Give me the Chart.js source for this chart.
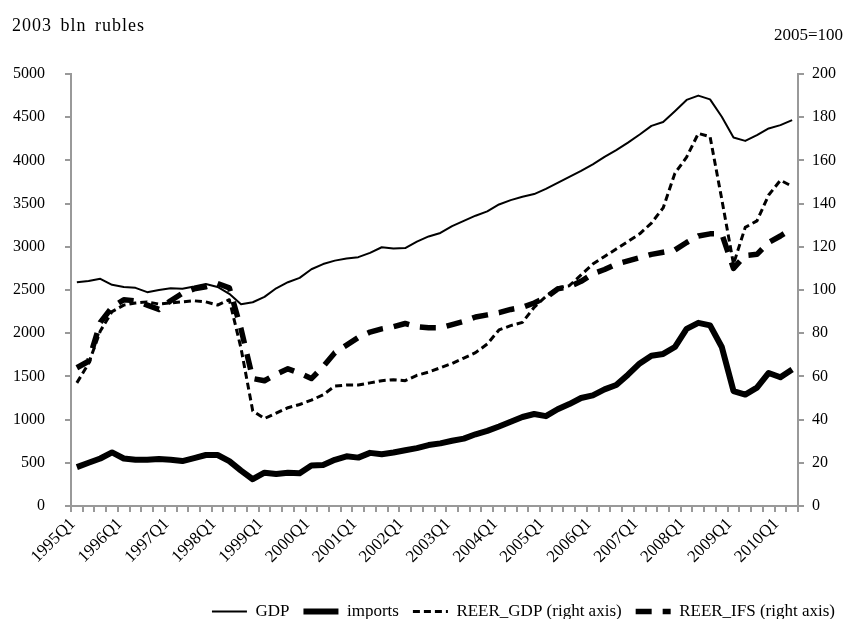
<html>
<head>
  <title>GDP, imports and REER</title>
  <script src="https://cdn.jsdelivr.net/npm/chart.js"></script>
  <style>
    body { margin: 0; background: #fff; }
    .wrap { position: relative; width: 849px; height: 619px; }
    .unit { position: absolute; font-family: 'Liberation Serif', serif; color: #000; }
  </style>
</head>
<body>
  <div class="wrap">
    <canvas id="myChart"></canvas>
    <div class="unit" style="left:12px; top:15px; font-size:18px; letter-spacing:1px; word-spacing:3px;">2003 bln rubles</div>
    <div class="unit" style="right:6px; top:25px; font-size:17px;">2005=100</div>
  </div>
  <script>
    // quarters
    const quarters = ['1995Q1','1995Q2','1995Q3','1995Q4','1996Q1','1996Q2','1996Q3','1996Q4',
      '1997Q1','1997Q2','1997Q3','1997Q4','1998Q1','1998Q2','1998Q3','1998Q4',
      '1999Q1','1999Q2','1999Q3','1999Q4','2000Q1','2000Q2','2000Q3','2000Q4',
      '2001Q1','2001Q2','2001Q3','2001Q4','2002Q1','2002Q2','2002Q3','2002Q4',
      '2003Q1','2003Q2','2003Q3','2003Q4','2004Q1','2004Q2','2004Q3','2004Q4',
      '2005Q1','2005Q2','2005Q3','2005Q4','2006Q1','2006Q2','2006Q3','2006Q4',
      '2007Q1','2007Q2','2007Q3','2007Q4','2008Q1','2008Q2','2008Q3','2008Q4',
      '2009Q1','2009Q2','2009Q3','2009Q4','2010Q1','2010Q2'];

    // left axis, 2003 bln rubles
    const gdp = [2590,2605,2630,2560, 2535,2525,2475,2500, 2520,2515,2540,2570, 2535,2456,2335,2358,
      2420,2520,2590,2640, 2740,2800,2840,2865, 2880,2930,2995,2980, 2985,3060,3120,3160,
      3240,3300,3360,3410, 3490,3540,3580,3610, 3670,3740,3810,3880, 3955,4040,4120,4205,
      4300,4400,4445,4570, 4700,4750,4706,4505, 4266,4226,4292,4370, 4408,4466];
    const imports = [450,500,550,620, 550,535,535,545, 535,520,555,590, 590,520,410,310,
      385,370,385,380, 470,475,535,575, 560,615,600,620, 645,670,705,725,
      755,780,830,870, 920,975,1030,1065, 1040,1120,1180,1250, 1280,1350,1400,1520,
      1650,1740,1760,1840, 2050,2120,2090,1840, 1330,1290,1370,1540, 1490,1580];

    // right axis, 2005=100
    const reerGdp = [57,66,81,90, 93,94,94.5,93.5, 94,94.5,95,94.5, 93,95.5,73,44,
      40.5,43,45.5,47, 49,51.5,55.5,56, 56,57,58,58.5, 58,60.5,62,64,
      66,68.5,71,75, 81.5,83.5,85,92, 97,101,102,107, 112,115.5,119,122.5,
      126,131,138,154, 161.5,172.5,171,142, 112,129,132,144, 150.8,148];
    const reerIfs = [64,67,85,92, 95.5,95,93,91, 95,98.5,100.5,101.5, 103,101,82,59,
      58,61,63.5,61.5, 59,64.5,71,74.5, 78,80.5,82,83, 84.5,83,82.5,82.5,
      84,85.5,87.5,88.5, 89.5,91,92,94, 96.5,100.5,101.5,104, 107.5,109.5,112,113.5,
      115,116.5,117.5,118.5, 122,125,126,126, 110,116,116.5,122, 125,128.5];

    const serif = 'Liberation Serif';
    const axisGrey = '#999999';

    // legend shows the real line style of each series
    function legendItems(chart) {
      return chart.data.datasets.map((ds, i) => ({
        text: ds.label,
        strokeStyle: ds.borderColor,
        fillStyle: ds.borderColor,
        lineWidth: ds.borderWidth,
        lineDash: ds.borderDash || [],
        lineCap: 'butt',
        pointStyle: 'line',
        fontColor: '#000',
        hidden: !chart.isDatasetVisible(i),
        datasetIndex: i
      }));
    }

    // push the legend row a bit lower
    const legendShift = {
      id: 'legendShift',
      afterLayout(chart) {
        chart.legend.top += 11;
        chart.legend.bottom += 11;
      }
    };

    const ctx = document.getElementById('myChart').getContext('2d');
    const myChart = new Chart(ctx, {
      type: 'line',
      data: {
        labels: quarters,
        datasets: [
          { label: 'GDP', data: gdp, yAxisID: 'y', borderColor: '#000', borderWidth: 2 },
          { label: 'imports', data: imports, yAxisID: 'y', borderColor: '#000', borderWidth: 6 },
          { label: 'REER_GDP (right axis)', data: reerGdp, yAxisID: 'y2', borderColor: '#000', borderWidth: 3, borderDash: [7, 4] },
          { label: 'REER_IFS (right axis)', data: reerIfs, yAxisID: 'y2', borderColor: '#000', borderWidth: 5.5, borderDash: [16, 11] }
        ]
      },
      options: {
        responsive: true,
        maintainAspectRatio: false,
        animation: false,
        layout: { padding: { top: 74, right: 0, left: 0, bottom: 0 } },
        elements: {
          point: { radius: 0 },
          line: { tension: 0, borderJoinStyle: 'round', fill: false }
        },
        plugins: {
          legend: {
            position: 'bottom',
            align: 'end',
            labels: {
              usePointStyle: true,
              pointStyleWidth: 35,
              padding: 14,
              color: '#000',
              font: { family: serif, size: 17 },
              generateLabels: legendItems
            }
          },
          tooltip: { enabled: false }
        },
        scales: {
          x: {
            offset: true,
            grid: { offset: true, drawOnChartArea: false, drawTicks: true, tickLength: 6, color: axisGrey, lineWidth: 2 },
            border: { color: axisGrey, width: 2 },
            ticks: {
              autoSkip: false,
              minRotation: 45,
              maxRotation: 45,
              padding: 2,
              labelOffset: -4,
              color: '#000',
              font: { family: serif, size: 17 },
              callback: function(value, index) {
                return index % 4 === 0 ? quarters[index] : '';
              }
            },
            afterFit(scale) { scale.height = 72; }
          },
          y: {
            position: 'left',
            min: 0,
            max: 5000,
            grid: { drawOnChartArea: false, tickLength: 6, color: axisGrey, lineWidth: 2 },
            border: { color: axisGrey, width: 2 },
            ticks: {
              stepSize: 500, padding: 20, color: '#000', font: { family: serif, size: 16 },
              callback: value => String(value)
            },
            afterFit(scale) { scale.width = 71; }
          },
          y2: {
            position: 'right',
            min: 0,
            max: 200,
            grid: { drawOnChartArea: false, tickLength: 6, color: axisGrey, lineWidth: 2 },
            border: { color: axisGrey, width: 2 },
            ticks: {
              stepSize: 20, padding: 8, color: '#000', font: { family: serif, size: 16 },
              callback: value => String(value)
            },
            afterFit(scale) { scale.width = 51; }
          }
        }
      },
      plugins: [legendShift]
    });
  </script>
</body>
</html>
